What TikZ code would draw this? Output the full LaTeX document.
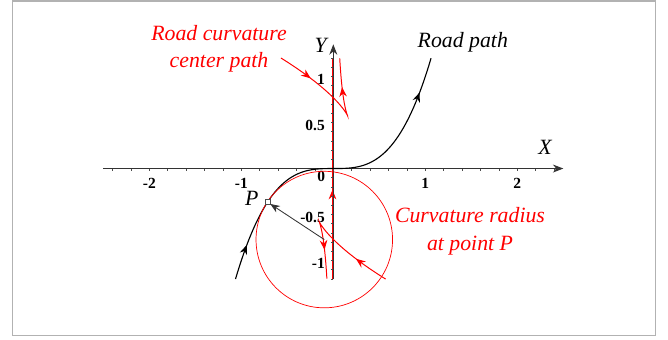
\documentclass[tikz,border=0pt]{standalone}
\usepackage{fontspec}
\setmainfont{Liberation Serif}
\usetikzlibrary{arrows.meta, decorations.markings, calc}

\begin{document}
\begin{tikzpicture}[
    x=2.3cm, y=2.3cm,
    axis/.style={black!80, line width=0.6pt, -{Stealth[length=2.6mm, width=2mm]}},
    tickmark/.style={black!70, line width=0.4pt},
    ticklabel/.style={font=\fontsize{11}{12}\selectfont\bfseries, inner sep=0pt},
    biglabel/.style={font=\fontsize{15.5}{19.5}\selectfont\itshape, align=center, inner sep=0pt},
    arrowmarks/.style 2 args={postaction={decorate}, decoration={markings,
        mark=at position #1 with {\arrow{Stealth[length=2.4mm, width=1.9mm]}},
        mark=at position #2 with {\arrow{Stealth[length=2.4mm, width=1.9mm]}}}},
    onemark/.style={postaction={decorate}, decoration={markings,
        mark=at position #1 with {\arrow{Stealth[length=2.4mm, width=1.9mm]}}}},
    road/.style={black, line width=0.8pt},
    centerpath/.style={red, line width=0.7pt},
    arrow/.style={black!80, line width=0.6pt, -{Stealth[length=2.4mm, width=1.9mm]}}
]

% Frame
\useasboundingbox (-3.623,-1.853) rectangle (3.638,1.832);
\draw[gray!60, line width=0.8pt] (-3.485,-1.817) rectangle (3.502,1.821);

% Curvature centers along the Y axis (under it)
\draw[centerpath, onemark=2.23cm] ([xshift=-0.6pt]0,-1.2) -- ([xshift=-0.6pt]0,1.2);

% Axes
\draw[axis] (-2.5,0) -- (2.5,0);
\draw[axis] (0,-1.2) -- (0,1.35);
\foreach \i in {-12,...,12} \draw[tickmark] (\i/5,0) -- (\i/5,-0.025);
\foreach \i in {-12,...,12} \draw[tickmark] (0,\i/10) -- (-0.025,\i/10);
\foreach \v [count=\k] in {-2,-1,1,2}
    \node (xl\k) [ticklabel] at (\v,-0.165) {\v};
\foreach \v [count=\k] in {-1,-0.5,0.5,1}
    \node (yl\k) [ticklabel, anchor=east] at (-0.09,\v-0.03) {\v};
\node (zero) [ticklabel] at (-0.13,-0.09) {0};
\node (xlabel) [biglabel] at (2.301,0.234) {X};
\node (ylabel) [biglabel] at (-0.137,1.342) {Y};

% Road path and curvature centers
\draw[road, arrowmarks={0.9cm}{-0.9cm}] plot[domain=-1.063:1.063, samples=90] (\x, {\x*\x*\x});
\draw[centerpath, arrowmarks={0.9cm}{-0.72cm}] plot[domain=-0.7302:-0.1397, samples=120]
    ({0.5*\x - 4.5*\x*\x*\x*\x*\x}, {\x*\x*\x + (1 + 9*\x*\x*\x*\x)/(6*\x)});
\draw[centerpath, arrowmarks={0.9cm}{-0.72cm}] plot[domain=-0.7302:-0.1397, samples=120]
    ({-0.5*\x + 4.5*\x*\x*\x*\x*\x}, {-\x*\x*\x - (1 + 9*\x*\x*\x*\x)/(6*\x)});

% Curvature circle at P
\coordinate (C) at (-0.098,-0.772);
\draw[red, line width=0.5pt] (C) circle[radius=0.742];
\node (P) [draw=black!70, fill=white, minimum size=3.5pt, inner sep=0pt, line width=0.4pt] at (-0.715,-0.3655) {};
\draw[arrow] (C) -- (P);
\node (plabel) [biglabel] at (-0.887,-0.324) {P};

% Labels
\node (centerlabel) [biglabel, red] at (-1.242,1.300) {Road curvature\\center path};
\node (roadlabel) [biglabel] at (1.408,1.378) {Road path};
\node (radiuslabel) [biglabel, red] at (1.486,-0.684) {Curvature radius\\at point P};

\end{tikzpicture}
\end{document}
